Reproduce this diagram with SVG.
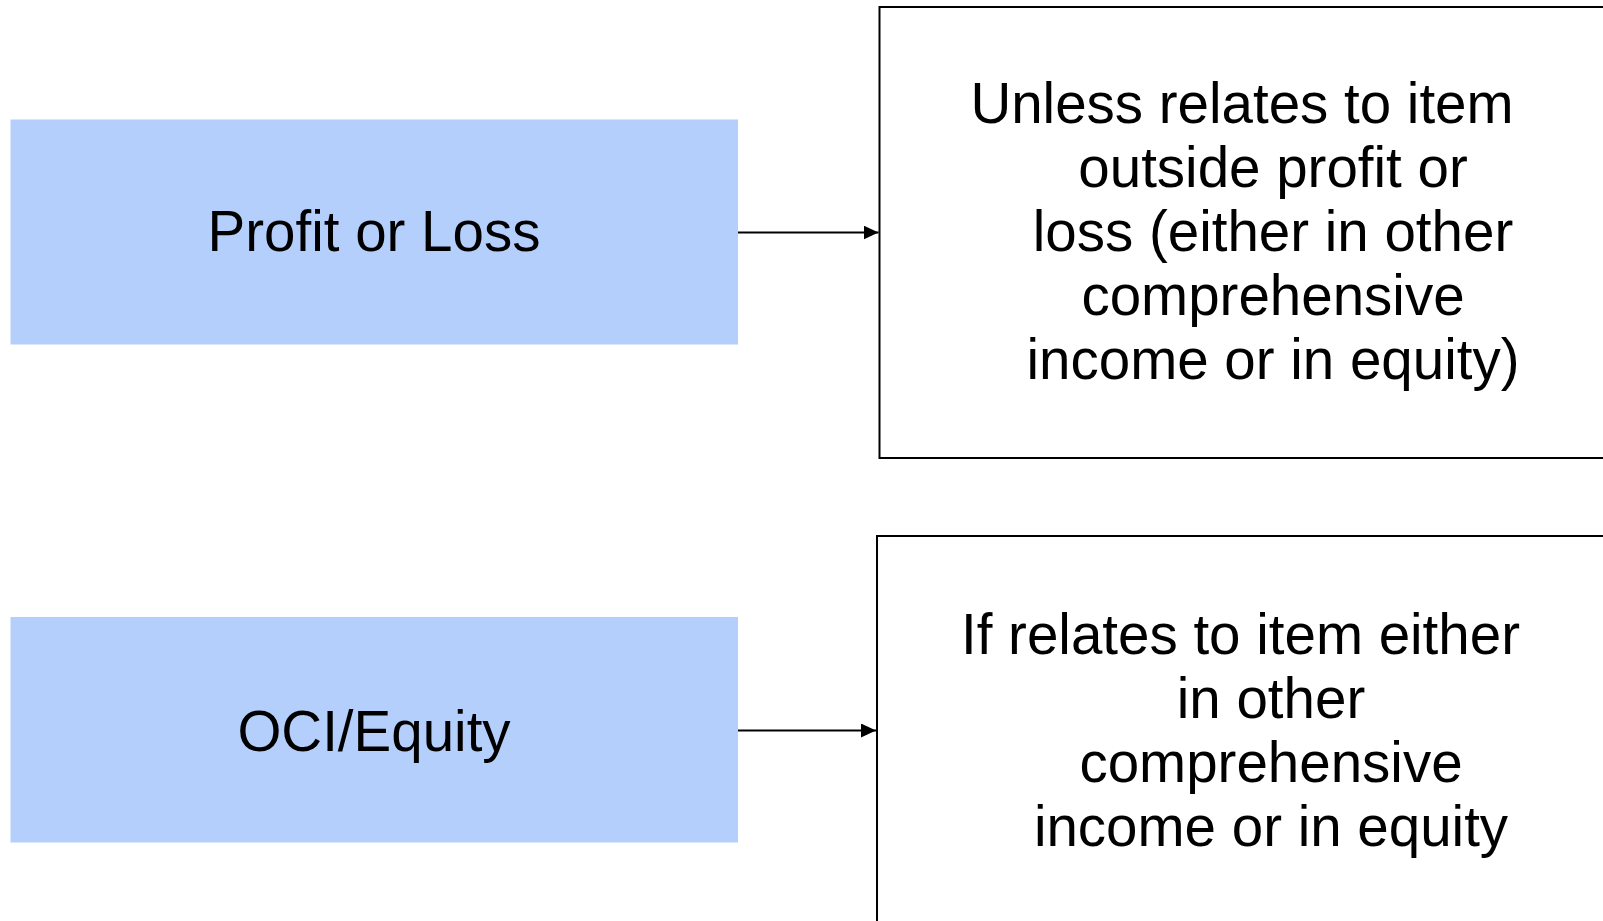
<svg xmlns="http://www.w3.org/2000/svg" width="1603" height="921" viewBox="0 0 1603 921">
<defs>
<style>
.src{fill:#b4cffc;stroke:none}
.box{fill:#fff;stroke:#000;stroke-width:2}
.t{font-family:"Liberation Sans",Arial,sans-serif;font-size:56.5px;fill:#000;text-anchor:middle}
.c{stroke:#000;stroke-width:2;fill:none}
</style>
<marker id="ah" markerWidth="15" markerHeight="14" refX="15" refY="7" orient="auto" markerUnits="userSpaceOnUse" viewBox="0 0 15 14">
<path d="M0,0 L15,7 L0,14 Z" fill="#000"/>
</marker>
</defs>
<rect width="1603" height="921" fill="#fff"/>
<g id="profit-loss">
<rect class="src" x="10.5" y="119.5" width="727.5" height="225"/>
<text class="t" x="374" y="251">Profit or Loss</text>
</g>
<g id="oci-equity">
<rect class="src" x="10.5" y="617" width="727.5" height="225.5"/>
<text class="t" x="374" y="751">OCI/Equity</text>
</g>
<g id="unless-box">
<rect class="box" x="879.5" y="7" width="740" height="451"/>
<text class="t" x="1242" y="123">Unless relates to item</text>
<text class="t" x="1273" y="187">outside profit or</text>
<text class="t" x="1273" y="251">loss (either in other</text>
<text class="t" x="1273" y="315">comprehensive</text>
<text class="t" x="1273" y="379">income or in equity)</text>
</g>
<g id="if-box">
<rect class="box" x="877" y="536" width="740" height="400"/>
<text class="t" x="1240.5" y="654">If relates to item either</text>
<text class="t" x="1271" y="718">in other</text>
<text class="t" x="1271" y="782">comprehensive</text>
<text class="t" x="1271" y="846">income or in equity</text>
</g>
<g id="connectors">
<line class="c" x1="738" y1="232.5" x2="878.5" y2="232.5" marker-end="url(#ah)"/>
<line class="c" x1="738" y1="730.5" x2="876" y2="730.5" marker-end="url(#ah)"/>
</g>
</svg>
